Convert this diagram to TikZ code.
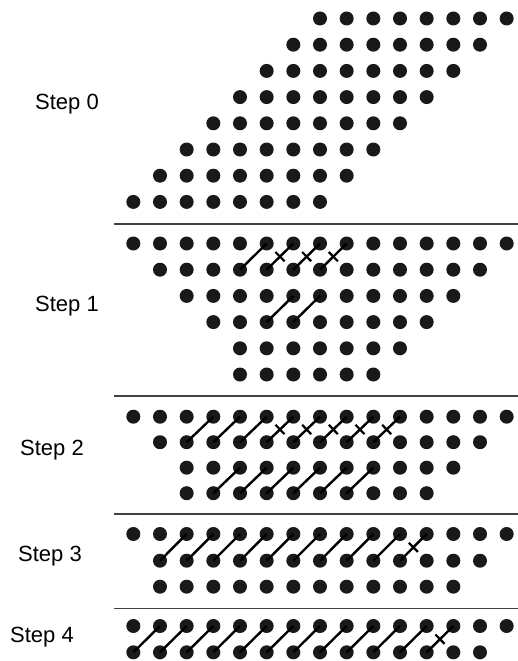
\documentclass[tikz,border=0pt]{standalone}
\usepackage{fontspec}
\setmainfont{Liberation Sans}
\usetikzlibrary{decorations.markings}
\begin{document}
\begin{tikzpicture}[x=1pt,y=-1pt,
  dot/.style={circle,fill=black!90,draw=none,minimum size=14pt,inner sep=0pt,outer sep=0pt},
  conn/.style={draw=black,line width=2.4pt},
  crossed/.style={conn,postaction={decorate},
    decoration={markings,mark=at position 0.5 with {\draw[line width=2.2pt] (0,-6.5) -- (0,6.5);}}},
  sep/.style={draw=black!75,line width=1.3pt},
  lbl/.style={anchor=west,inner sep=0pt,font=\fontsize{22}{26}\selectfont}]
\useasboundingbox (0,0) rectangle (518,661);
\def\cx#1{133.33+26.667*#1}
% Step 0
\foreach \r/\y in {0/18.5,1/44.7,2/70.9,3/97.1,4/123.3,5/149.5,6/175.7,7/201.9}{
  \pgfmathtruncatemacro\a{7-\r}
  \pgfmathtruncatemacro\b{14-\r}
  \foreach \c in {\a,...,\b}
    \node[dot] (s0-\r-\c) at ({\cx{\c}},\y) {};
}
\node[lbl] (l0) at (35,104) {Step 0};
\coordinate (sepL1) at (114,224);
\coordinate (sepR1) at (518,224);
\draw[sep] (sepL1) -- (sepR1);
% Step 1
\foreach \r/\y/\a/\b in {0/243.5/0/14,1/269.7/1/13,2/295.9/2/12,3/322.1/3/11,4/348.3/4/10,5/374.5/4/9}{
  \foreach \c in {\a,...,\b}
    \node[dot] (s1-\r-\c) at ({\cx{\c}},\y) {};
}
\draw[conn] (s1-1-4.center) -- (s1-0-5.center);
\foreach \c [evaluate=\c as \d using int(\c+1)] in {5,6,7}
  \draw[crossed] (s1-1-\c.center) -- (s1-0-\d.center);
\foreach \c [evaluate=\c as \d using int(\c+1)] in {5,6}
  \draw[conn] (s1-3-\c.center) -- (s1-2-\d.center);
\node[lbl] (l1) at (35,306) {Step 1};
\coordinate (sepL2) at (114,396);
\coordinate (sepR2) at (518,396);
\draw[sep] (sepL2) -- (sepR2);
% Step 2
\foreach \r/\y/\a/\b in {0/416.7/0/14,1/442.2/1/13,2/467.7/2/12,3/493.2/2/11}{
  \foreach \c in {\a,...,\b}
    \node[dot] (s2-\r-\c) at ({\cx{\c}},\y) {};
}
\foreach \c [evaluate=\c as \d using int(\c+1)] in {2,3,4}
  \draw[conn] (s2-1-\c.center) -- (s2-0-\d.center);
\foreach \c [evaluate=\c as \d using int(\c+1)] in {5,...,9}
  \draw[crossed] (s2-1-\c.center) -- (s2-0-\d.center);
\foreach \c [evaluate=\c as \d using int(\c+1)] in {3,...,8}
  \draw[conn] (s2-3-\c.center) -- (s2-2-\d.center);
\node[lbl] (l2) at (20,450) {Step 2};
\coordinate (sepL3) at (114,514);
\coordinate (sepR3) at (518,514);
\draw[sep] (sepL3) -- (sepR3);
% Step 3
\foreach \r/\y/\a/\b in {0/534/0/14,1/560.7/1/13,2/586.7/1/12}{
  \foreach \c in {\a,...,\b}
    \node[dot] (s3-\r-\c) at ({\cx{\c}},\y) {};
}
\foreach \c [evaluate=\c as \d using int(\c+1)] in {1,...,9}
  \draw[conn] (s3-1-\c.center) -- (s3-0-\d.center);
\draw[crossed] (s3-1-10.center) -- (s3-0-11.center);
\node[lbl] (l3) at (18,556) {Step 3};
\coordinate (sepL4) at (114,608.3);
\coordinate (sepR4) at (518,608.3);
\draw[sep] (sepL4) -- (sepR4);
% Step 4
\foreach \r/\y/\a/\b in {0/626/0/14,1/652.3/0/13}{
  \foreach \c in {\a,...,\b}
    \node[dot] (s4-\r-\c) at ({\cx{\c}},\y) {};
}
\foreach \c [evaluate=\c as \d using int(\c+1)] in {0,...,10}
  \draw[conn] (s4-1-\c.center) -- (s4-0-\d.center);
\draw[crossed] (s4-1-11.center) -- (s4-0-12.center);
\node[lbl] (l4) at (10,637) {Step 4};
\end{tikzpicture}
\end{document}
